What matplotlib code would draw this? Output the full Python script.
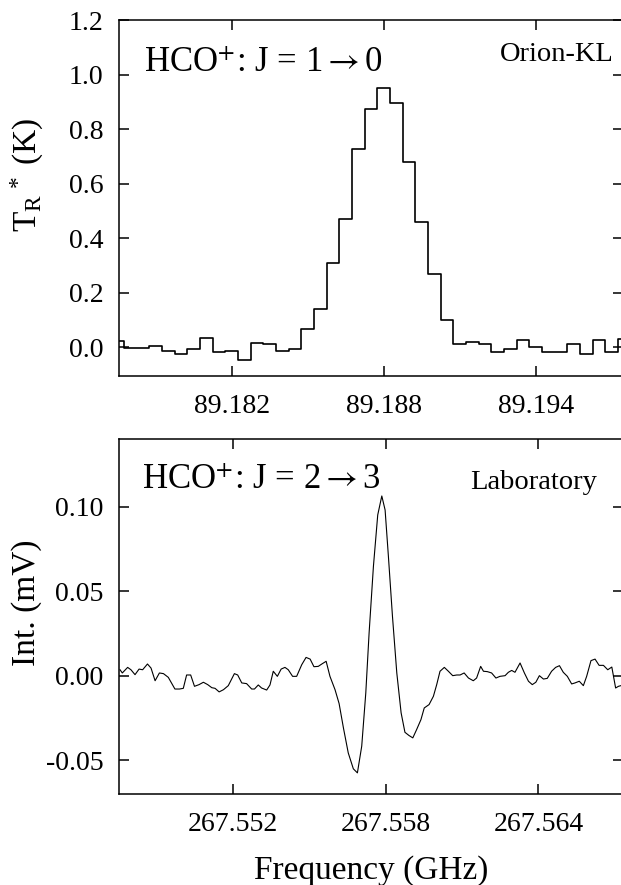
import matplotlib
matplotlib.use("Agg")
import matplotlib.pyplot as plt
from matplotlib.ticker import FixedLocator, FormatStrFormatter

plt.rcParams['font.family'] = ['Liberation Serif', 'DejaVu Serif']
plt.rcParams['mathtext.fontset'] = 'custom'
plt.rcParams['mathtext.rm'] = 'Liberation Serif'
plt.rcParams['mathtext.it'] = 'Liberation Serif:italic'
plt.rcParams['mathtext.fallback'] = 'stix'
plt.rcParams['axes.unicode_minus'] = False

# ---- Top panel: Orion-KL HCO+ J=1->0 (channel centres, GHz) ----
orion_freq = [89.1775, 89.1780, 89.1785, 89.1790, 89.1795, 89.1800, 89.1805,
              89.1810, 89.1815, 89.1820, 89.1825, 89.1830, 89.1835, 89.1840,
              89.1845, 89.1850, 89.1855, 89.1860, 89.1865, 89.1870, 89.1875,
              89.1880, 89.1885, 89.1890, 89.1895, 89.1900, 89.1905, 89.1910,
              89.1915, 89.1920, 89.1925, 89.1930, 89.1935, 89.1940, 89.1945,
              89.1950, 89.1955, 89.1960, 89.1965, 89.1970, 89.1975]
orion_temp = [0.024, -0.004, -0.002, 0.006, -0.013, -0.024, -0.006, 0.033,
              -0.016, -0.013, -0.045, 0.015, 0.012, -0.012, -0.006, 0.067,
              0.139, 0.310, 0.470, 0.726, 0.875, 0.949, 0.896, 0.680, 0.458,
              0.269, 0.099, 0.013, 0.018, 0.012, -0.016, -0.006, 0.028, 0.000,
              -0.018, -0.018, 0.011, -0.026, 0.028, -0.016, 0.029]

# ---- Bottom panel: Laboratory HCO+ J=2->3 ----
lab_freq = [267.54754, 267.54763, 267.54784, 267.54797, 267.54813, 267.54829,
            267.54843, 267.54862, 267.54876, 267.54892, 267.54909, 267.54925,
            267.54944, 267.54970, 267.54988, 267.55003, 267.55016, 267.55032,
            267.55047, 267.55065, 267.55082, 267.55099, 267.55115, 267.55128,
            267.55144, 267.55161, 267.55180, 267.55204, 267.55217, 267.55233,
            267.55252, 267.55272, 267.55283, 267.55298, 267.55311, 267.55331,
            267.55344, 267.55357, 267.55373, 267.55388, 267.55403, 267.55416,
            267.55433, 267.55449, 267.55469, 267.55486, 267.55502, 267.55517,
            267.55534, 267.55548, 267.55565, 267.55580, 267.55600, 267.55616,
            267.55633, 267.55652, 267.55672, 267.55688, 267.55705, 267.55721,
            267.55734, 267.55751, 267.55768, 267.55784, 267.55797, 267.55810,
            267.55826, 267.55843, 267.55860, 267.55875, 267.55891, 267.55906,
            267.55921, 267.55938, 267.55951, 267.55970, 267.55987, 267.56000,
            267.56013, 267.56030, 267.56046, 267.56063, 267.56079, 267.56092,
            267.56108, 267.56125, 267.56144, 267.56157, 267.56173, 267.56184,
            267.56199, 267.56216, 267.56233, 267.56249, 267.56269, 267.56282,
            267.56295, 267.56308, 267.56328, 267.56345, 267.56361, 267.56376,
            267.56390, 267.56404, 267.56420, 267.56435, 267.56452, 267.56468,
            267.56483, 267.56498, 267.56514, 267.56531, 267.56544, 267.56561,
            267.56577, 267.56590, 267.56607, 267.56623, 267.56639, 267.56656,
            267.56673, 267.56689, 267.56704, 267.56715, 267.56740]
lab_int = [0.0035, 0.0016, 0.0049, 0.0035, 0.0006, 0.0039, 0.0035, 0.0069,
           0.0045, -0.0030, 0.0016, 0.0012, -0.0010, -0.0079, -0.0079, -0.0075,
           0.0004, 0.0004, -0.0063, -0.0053, -0.0039, -0.0053, -0.0071, -0.0075,
           -0.0096, -0.0083, -0.0059, 0.0012, 0.0004, -0.0043, -0.0047, -0.0079,
           -0.0079, -0.0055, -0.0073, -0.0085, -0.0055, 0.0026, -0.0004, 0.0039,
           0.0049, 0.0035, -0.0004, -0.0004, 0.0065, 0.0108, 0.0098, 0.0053,
           0.0055, 0.0069, 0.0085, -0.0004, -0.0083, -0.0165, -0.0309, -0.0457,
           -0.0551, -0.0575, -0.0417, -0.0102, 0.0252, 0.0646, 0.0951, 0.1063,
           0.0980, 0.0705, 0.0350, 0.0016, -0.0220, -0.0335, -0.0354, -0.0368,
           -0.0319, -0.0260, -0.0191, -0.0171, -0.0122, -0.0053, 0.0026, 0.0049,
           0.0026, 0.0000, 0.0004, 0.0004, 0.0016, -0.0014, -0.0030, -0.0014,
           0.0055, 0.0026, 0.0024, 0.0016, -0.0014, -0.0004, 0.0000, 0.0020,
           0.0031, 0.0020, 0.0075, 0.0016, -0.0033, -0.0053, -0.0039, 0.0000,
           -0.0020, -0.0016, 0.0026, 0.0049, 0.0059, 0.0020, -0.0004, -0.0049,
           -0.0043, -0.0033, -0.0059, -0.0004, 0.0089, 0.0098, 0.0061, 0.0061,
           0.0035, 0.0051, -0.0073, -0.0063, -0.0053]

top_yticks = [0.0, 0.2, 0.4, 0.6, 0.8, 1.0, 1.2]
top_xticks = [89.182, 89.188, 89.194]
bot_yticks = [-0.05, 0.00, 0.05, 0.10]
bot_xticks = [267.552, 267.558, 267.564]

W, H = 621, 885
fig = plt.figure(figsize=(W / 100, H / 100), dpi=100)

def axes_px(x0, y0, x1, y1):
    return fig.add_axes([x0 / W, 1 - y1 / H, (x1 - x0) / W, (y1 - y0) / H])

ax1 = axes_px(119, 20, 623, 376)
ax2 = axes_px(119, 439, 623, 794)

for ax in (ax1, ax2):
    for s in ax.spines.values():
        s.set_linewidth(1.1)
    ax.tick_params(direction='in', length=7, width=1.1, top=True, right=True,
                   labelsize=20, pad=11)
    ax.tick_params(axis='x', pad=13)

ax1.step(orion_freq, orion_temp, where='mid', color='black', lw=1.2)
ax1.set_xlim(89.17755, 89.19745)
ax1.set_ylim(-0.105, 1.2)
ax1.xaxis.set_major_locator(FixedLocator(top_xticks))
ax1.xaxis.set_major_formatter(FormatStrFormatter('%.3f'))
ax1.yaxis.set_major_locator(FixedLocator(top_yticks))
ax1.yaxis.set_major_formatter(FormatStrFormatter('%.1f'))
ax1.set_ylabel(r'T$_\mathrm{R}$$^{\,*}$ (K)', fontsize=24)
ax1.yaxis.set_label_coords(-0.145, 0.565)
ax1.text(144 / W, 1 - 72 / H, r'HCO$^{+}$: J = 1$\rightarrow$0', fontsize=25,
         transform=fig.transFigure, ha='left', va='baseline', math_fontfamily='stix')
ax1.text(614 / W, 1 - 61 / H, 'Orion-KL', fontsize=20.5,
         transform=fig.transFigure, ha='right', va='baseline')

ax2.plot(lab_freq, lab_int, color='black', lw=0.8)
ax2.set_xlim(267.5475, 267.56733)
ax2.set_ylim(-0.07, 0.14)
ax2.xaxis.set_major_locator(FixedLocator(bot_xticks))
ax2.xaxis.set_major_formatter(FormatStrFormatter('%.3f'))
ax2.yaxis.set_major_locator(FixedLocator(bot_yticks))
ax2.yaxis.set_major_formatter(FormatStrFormatter('%.2f'))
ax2.set_ylabel('Int. (mV)', fontsize=24)
ax2.yaxis.set_label_coords(-0.152, 0.54)
ax2.set_xlabel('Frequency (GHz)', fontsize=24, labelpad=13)
ax2.text(142 / W, 1 - 489 / H, r'HCO$^{+}$: J = 2$\rightarrow$3', fontsize=25,
         transform=fig.transFigure, ha='left', va='baseline', math_fontfamily='stix')
ax2.text(597 / W, 1 - 489 / H, 'Laboratory', fontsize=20.5,
         transform=fig.transFigure, ha='right', va='baseline')

fig.savefig('out.png', dpi=100)
